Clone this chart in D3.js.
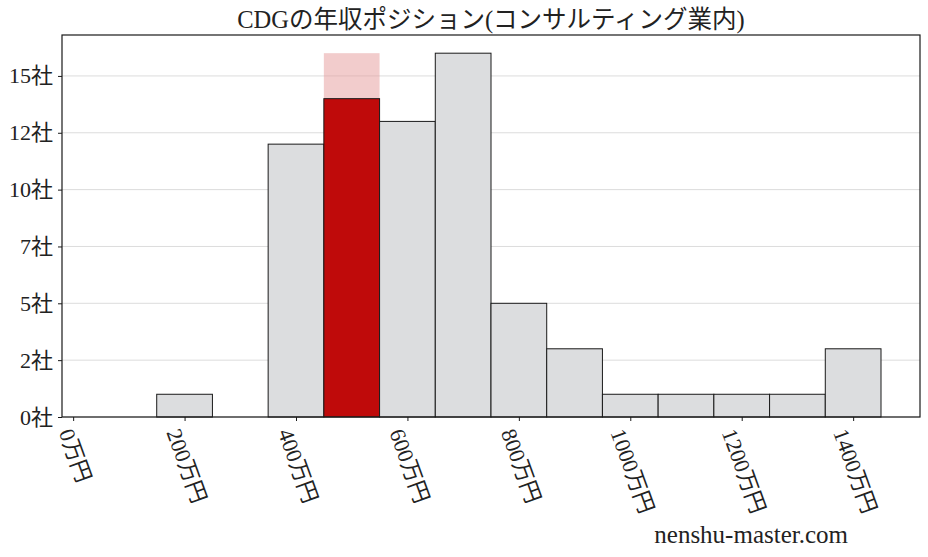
<!DOCTYPE html>
<html>
<head>
<meta charset="utf-8">
<script src="https://cdn.jsdelivr.net/npm/d3@7"></script>
<style>
  body { margin: 0; background: white; }
  text { font-family: "Liberation Serif", "DejaVu Serif", "Noto Sans CJK JP", serif; fill: #222; }
</style>
</head>
<body>
<svg></svg>
<script>
// bin centres (万円) and number of companies in each bin
const bins = [0, 100, 200, 300, 400, 500, 600, 700, 800, 900, 1000, 1100, 1200, 1300, 1400];
const counts = [0, 0, 1, 0, 12, 14, 13, 16, 5, 3, 1, 1, 1, 1, 3];
const ownBin = 500;

const xTicks = [0, 200, 400, 600, 800, 1000, 1200, 1400];
const xTickLabels = ['0万円', '200万円', '400万円', '600万円', '800万円', '1000万円', '1200万円', '1400万円'];
const yTicks = [0, 2.5, 5, 7.5, 10, 12.5, 15];
const yTickLabels = ['0社', '2社', '5社', '7社', '10社', '12社', '15社'];

const title = 'CDGの年収ポジション(コンサルティング業内)';
const watermark = 'nenshu-master.com';

const width = 928, height = 557;
const margin = {left: 62, right: 8, top: 35, bottom: 140};
const binWidth = 100;

const svg = d3.select('svg').attr('width', width).attr('height', height);

const maxCount = d3.max(counts);
const x = d3.scaleLinear().domain([-20, 1520]).range([margin.left, width - margin.right]);
const y = d3.scaleLinear().domain([0, maxCount * 1.05]).range([height - margin.bottom, margin.top]);

// grid
svg.append('g')
  .selectAll('line')
  .data(yTicks)
  .join('line')
  .attr('x1', x.range()[0]).attr('x2', x.range()[1])
  .attr('y1', d => y(d)).attr('y2', d => y(d))
  .style('stroke', '#dcdcdc')
  .style('stroke-width', 1);

// highlight behind own bin
svg.append('rect')
  .attr('x', x(ownBin - binWidth / 2))
  .attr('y', y(maxCount))
  .attr('width', x(ownBin + binWidth / 2) - x(ownBin - binWidth / 2))
  .attr('height', y(0) - y(maxCount))
  .style('fill', '#e69999')
  .style('opacity', 0.5);

// bars
const data = bins.map((b, i) => ({bin: b, count: counts[i]})).filter(d => d.count > 0);
svg.append('g')
  .selectAll('rect')
  .data(data)
  .join('rect')
  .attr('x', d => x(d.bin - binWidth / 2))
  .attr('y', d => y(d.count))
  .attr('width', d => x(d.bin + binWidth / 2) - x(d.bin - binWidth / 2))
  .attr('height', d => y(0) - y(d.count))
  .style('fill', d => d.bin == ownBin ? '#bf0a0a' : '#dcdddf')
  .style('stroke', '#1a1a1a')
  .style('stroke-width', 1);

// frame
svg.append('rect')
  .attr('x', x.range()[0]).attr('y', y.range()[1])
  .attr('width', x.range()[1] - x.range()[0])
  .attr('height', y.range()[0] - y.range()[1])
  .style('fill', 'none')
  .style('stroke', '#1a1a1a')
  .style('stroke-width', 1.2);

// y axis
const yAxis = svg.append('g')
  .attr('transform', `translate(${margin.left},0)`)
  .call(d3.axisLeft(y).tickValues(yTicks).tickSize(4).tickPadding(5)
    .tickFormat((d, i) => yTickLabels[i]));
yAxis.select('.domain').remove();
yAxis.selectAll('.tick line').style('stroke', '#1a1a1a');
yAxis.selectAll('.tick text').style('font-size', '22px').style('fill', '#222')
  .style('font-family', '"Liberation Serif", "Noto Sans CJK JP", serif');

// x axis
const xAxis = svg.append('g')
  .attr('transform', `translate(0,${height - margin.bottom})`)
  .call(d3.axisBottom(x).tickValues(xTicks).tickSize(4).tickFormat(''));
xAxis.select('.domain').remove();
xAxis.selectAll('.tick line').style('stroke', '#1a1a1a');

const angle = 70;
const rad = angle * Math.PI / 180;
svg.append('g')
  .selectAll('text')
  .data(xTicks)
  .join('text')
  .text((d, i) => xTickLabels[i])
  .style('font-size', '22px')
  .attr('text-anchor', 'middle')
  .attr('dominant-baseline', 'central')
  .attr('transform', function(d) {
    const len = this.getComputedTextLength();
    const h = 22;
    const half = (len * Math.sin(rad) + h * Math.cos(rad)) / 2;
    return `translate(${x(d) + 2},${height - margin.bottom + 9 + half}) rotate(${angle})`;
  });

// title
svg.append('text')
  .attr('x', (x.range()[0] + x.range()[1]) / 2)
  .attr('y', 28)
  .attr('text-anchor', 'middle')
  .style('font-size', '24.5px')
  .text(title);

// watermark
svg.append('text')
  .attr('x', 848)
  .attr('y', 543)
  .attr('text-anchor', 'end')
  .style('font-size', '25px')
  .text(watermark);
</script>
</body>
</html>
